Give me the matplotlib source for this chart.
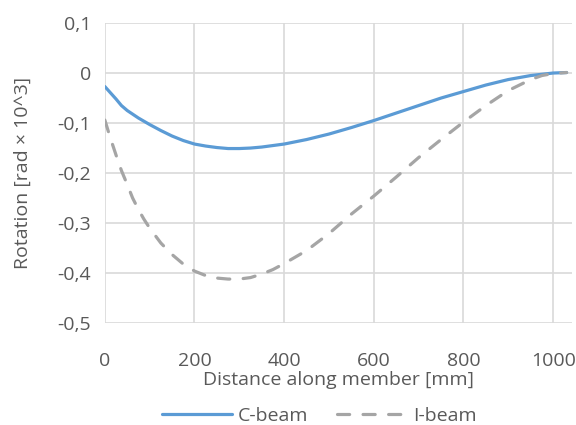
import numpy as np
import matplotlib
matplotlib.use("Agg")
import matplotlib.pyplot as plt
from matplotlib.ticker import FuncFormatter

plt.rcParams['font.family'] = ['Open Sans', 'DejaVu Sans']

# values
c_dist = [0, 12, 25, 37, 50, 75, 100, 125, 150, 175, 200, 225, 250, 275,
          300, 325, 350, 375, 400, 450, 500, 550, 600, 650, 700, 750, 800,
          850, 900, 950, 1000, 1030]
c_rot = [-0.028, -0.040, -0.053, -0.066, -0.076, -0.091, -0.104, -0.116,
         -0.127, -0.136, -0.143, -0.147, -0.150, -0.152, -0.152, -0.151,
         -0.149, -0.146, -0.143, -0.134, -0.123, -0.110, -0.096, -0.081,
         -0.066, -0.051, -0.038, -0.025, -0.014, -0.006, -0.001, 0.0]

i_dist = [0, 12, 25, 37, 50, 62, 75, 87, 100, 125, 150, 175, 200, 225, 250,
          275, 300, 325, 350, 375, 400, 450, 500, 550, 600, 650, 700, 750,
          800, 850, 900, 950, 975, 1000, 1030]
i_rot = [-0.095, -0.130, -0.165, -0.196, -0.224, -0.251, -0.274, -0.293,
         -0.311, -0.341, -0.364, -0.383, -0.397, -0.406, -0.411, -0.413,
         -0.413, -0.410, -0.403, -0.394, -0.382, -0.356, -0.322, -0.283,
         -0.247, -0.209, -0.170, -0.134, -0.099, -0.066, -0.036, -0.014,
         -0.006, -0.002, 0.0]

x_ticks = [0, 200, 400, 600, 800, 1000]
y_ticks = [-0.5, -0.4, -0.3, -0.2, -0.1, 0, 0.1]

txt = '#595959'
fs = 14
fig = plt.figure(figsize=(5.76, 4.25), dpi=100)
ax = fig.add_axes([0.182, 0.241, 0.811, 0.706])

ax.plot(c_dist, c_rot, color='#5B9BD5', lw=2.3, label='C-beam',
        solid_capstyle='round', solid_joinstyle='round')
ax.plot(i_dist, i_rot, color='#A5A5A5', lw=2.3, label='I-beam',
        dashes=(3.8, 4.2), dash_capstyle='round', dash_joinstyle='round')

ax.set_xlim(0, 1042)
ax.set_ylim(-0.5, 0.1)
ax.set_xticks(x_ticks)
ax.set_yticks(y_ticks)
ax.yaxis.set_major_formatter(FuncFormatter(
    lambda v, p: '0' if abs(v) < 1e-9 else ('%.1f' % v).replace('.', ',')))
ax.grid(True, color='#D9D9D9', lw=1.2)
ax.set_axisbelow(True)
for s in ax.spines.values():
    s.set_visible(False)
ax.tick_params(length=0, labelsize=fs, labelcolor=txt)
ax.tick_params(axis='x', pad=21)
ax.tick_params(axis='y', pad=10)

ax.set_xlabel('Distance along member [mm]', fontsize=fs, color=txt, labelpad=1)
ax.set_ylabel('Rotation [rad × 10^3]', fontsize=fs, color=txt, labelpad=18)

fig.legend(loc='center', bbox_to_anchor=(0.554, 0.022), ncol=2, frameon=False,
           fontsize=fs, labelcolor=txt, handlelength=3.6, columnspacing=1.5,
           handletextpad=0.3, borderpad=0, borderaxespad=0)

fig.savefig('out.png', dpi=100)
